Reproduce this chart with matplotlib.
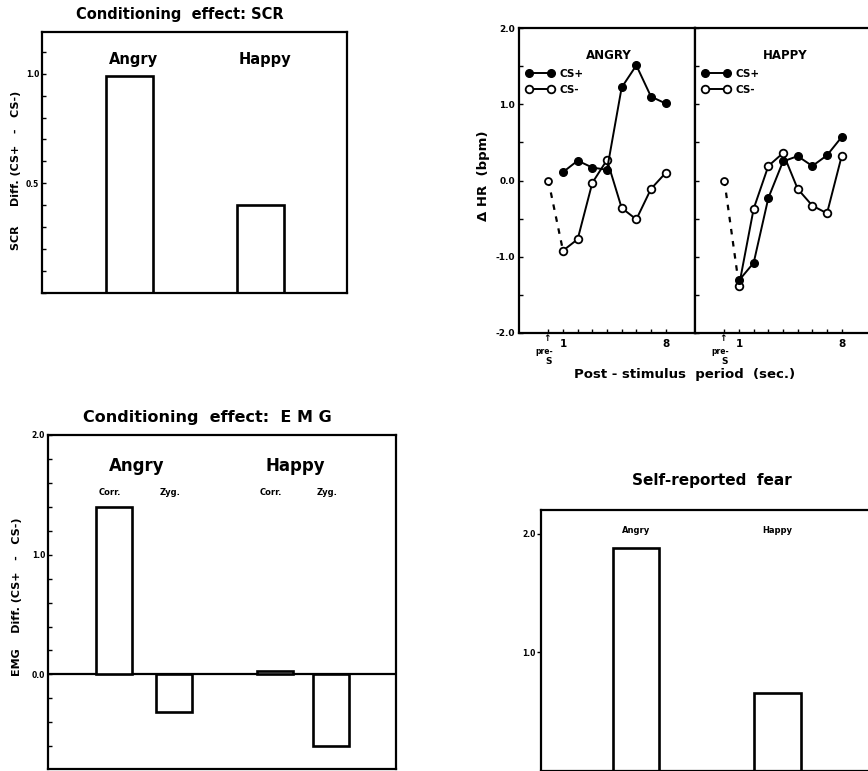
import matplotlib
matplotlib.use("Agg")
import matplotlib.pyplot as plt  # noqa: E402
from matplotlib.lines import Line2D  # noqa: E402
from matplotlib.ticker import FixedLocator, MultipleLocator  # noqa: E402
from matplotlib.transforms import blended_transform_factory  # noqa: E402

plt.rcParams["font.family"] = ["DejaVu Sans"]
plt.rcParams["font.weight"] = "bold"

# ---- data -----------------------------------------------------------------
faces = ["Angry", "Happy"]
scr_diff = [0.99, 0.40]

emg_muscles = ["Corr.", "Zyg."]
emg_angry = [1.40, -0.31]
emg_happy = [0.03, -0.60]

fear_rating = [1.88, 0.66]

hr_seconds = [1, 2, 3, 4, 5, 6, 7, 8]
hr_pre = 0.0
hr_angry_csp = [0.11, 0.26, 0.17, 0.14, 1.22, 1.51, 1.10, 1.01]
hr_angry_csm = [-0.92, -0.77, -0.03, 0.27, -0.36, -0.51, -0.11, 0.10]
hr_happy_csp = [-1.31, -1.08, -0.23, 0.25, 0.32, 0.19, 0.33, 0.57]
hr_happy_csm = [-1.38, -0.37, 0.19, 0.36, -0.11, -0.33, -0.43, 0.32]

W, H = 868, 771
fig = plt.figure(figsize=(W / 100, H / 100), dpi=100)


def px_axes(x0, y0, x1, y1):
    # axes placed by pixel box (top-left origin, like the scan)
    return fig.add_axes([x0 / W, 1 - y1 / H, (x1 - x0) / W, (y1 - y0) / H])


def frame(ax, lw=1.6):
    for s in ax.spines.values():
        s.set_linewidth(lw)


BAR = dict(facecolor="white", edgecolor="black", linewidth=1.9)

# ---- 1. SCR ---------------------------------------------------------------
ax = px_axes(42, 32, 347, 293)
frame(ax)
pos = [0, 1]
ax.bar(pos, scr_diff, width=0.36, **BAR)
ax.set_xlim(-0.67, 1.66)
ax.set_ylim(0, 1.19)
ax.set_xticks([])
ax.yaxis.set_major_locator(FixedLocator([0.5, 1.0]))
ax.yaxis.set_minor_locator(MultipleLocator(0.1))
ax.tick_params(axis="y", which="both", direction="in", length=3, width=1, labelsize=5.5, pad=2)
tr = blended_transform_factory(ax.transData, ax.transAxes)
for p, f in zip(pos, faces):
    ax.text(p + 0.03, 0.893, f, transform=tr, ha="center", va="center", fontsize=10.5)
fig.text(180 / W, 1 - 15 / H, "Conditioning  effect: SCR", ha="center", va="center", fontsize=10.5)
fig.text(16 / W, 1 - 170 / H, "SCR     Diff. (CS+   -   CS-)", rotation=90,
         ha="center", va="center", fontsize=8)

# ---- 2. Heart rate --------------------------------------------------------
panels = [("ANGRY", hr_angry_csp, hr_angry_csm, 519),
          ("HAPPY", hr_happy_csp, hr_happy_csm, 695)]
for i, (name, csp, csm, x0) in enumerate(panels):
    ax = px_axes(x0, 28, x0 + 176, 333)
    frame(ax)
    ax.plot([0, hr_seconds[0]], [hr_pre, csm[0]], color="black", lw=1.6,
            linestyle=(0, (2.5, 3)), zorder=2)
    ax.plot([0], [hr_pre], marker="o", ms=5, mfc="white", mec="black", mew=1.3,
            linestyle="none", zorder=4)
    ax.plot(hr_seconds, csm, color="black", lw=1.4, marker="o", ms=5.5,
            mfc="white", mec="black", mew=1.3, zorder=3)
    ax.plot(hr_seconds, csp, color="black", lw=1.4, marker="o", ms=5.5,
            mfc="black", mec="black", zorder=3)
    ax.set_xlim(-2, 10)
    ax.set_ylim(-2, 2)
    ax.yaxis.set_major_locator(MultipleLocator(1.0))
    ax.yaxis.set_minor_locator(MultipleLocator(0.5))
    ax.set_xticks(range(0, 9))
    ax.set_xticklabels(["", "1", "", "", "", "", "", "", "8"])
    ax.tick_params(which="both", direction="in", length=3, width=1)
    ax.tick_params(axis="x", labelsize=7.5, pad=4)
    ax.tick_params(axis="y", labelsize=6.5, pad=3)
    ax.yaxis.set_major_formatter(plt.FormatStrFormatter("%.1f"))
    if i > 0:
        ax.tick_params(axis="y", labelleft=False)
    ax.spines["right"].set_visible(i == 0)
    ax.text(0.51, 0.91, name, transform=ax.transAxes, ha="center", va="center", fontsize=8.5)
    handles = [Line2D([], [], color="black", lw=1.4, marker="o", ms=5.5, mfc="black", mec="black"),
               Line2D([], [], color="black", lw=1.4, marker="o", ms=5.5, mfc="white", mec="black", mew=1.3)]
    ax.legend(handles, ["CS+", "CS-"], loc="upper left", bbox_to_anchor=(0.0, 0.89),
              numpoints=2, handlelength=2.7, handletextpad=0.5, labelspacing=0.55,
              frameon=False, prop={"size": 7.5, "weight": "bold"}, borderaxespad=0.3)
    tr = blended_transform_factory(ax.transData, ax.transAxes)
    ax.text(-0.1, -0.017, "↑", transform=tr, ha="center", va="center", fontsize=6.5)
    ax.text(-0.25, -0.062, "pre-", transform=tr, ha="center", va="center", fontsize=5.5)
    ax.text(0, -0.092, "S", transform=tr, ha="center", va="center", fontsize=6.5)
fig.text(685 / W, 1 - 374 / H, "Post - stimulus  period  (sec.)", ha="center", va="center", fontsize=9.5)
fig.text(484 / W, 1 - 176 / H, "Δ HR  (bpm)", rotation=90, ha="center", va="center", fontsize=9.5)

# ---- 3. EMG ---------------------------------------------------------------
ax = px_axes(48, 435, 396, 769)
frame(ax)
groups = [(faces[0], emg_angry, [0.0, 1.0]), (faces[1], emg_happy, [2.68, 3.62])]
ax.axhline(0, color="black", lw=1.6, zorder=1)
tr = blended_transform_factory(ax.transData, ax.transAxes)
for face, vals, xs in groups:
    ax.bar(xs, vals, width=0.6, zorder=2, **BAR)
    ax.text(sum(xs) / 2 - 0.12, 0.907, face, transform=tr, ha="center", va="center", fontsize=12)
    for x, m in zip(xs, emg_muscles):
        ax.text(x - 0.06, 0.828, m, transform=tr, ha="center", va="center", fontsize=6)
ax.set_xlim(-1.095, 4.7)
ax.set_ylim(-0.79, 2.0)
ax.set_xticks([])
ax.yaxis.set_major_locator(FixedLocator([0.0, 1.0, 2.0]))
ax.yaxis.set_major_formatter(plt.FormatStrFormatter("%.1f"))
ax.yaxis.set_minor_locator(MultipleLocator(0.2))
ax.tick_params(axis="y", which="both", direction="in", length=3, width=1, labelsize=5.5, pad=2)
fig.text(207 / W, 1 - 418 / H, "Conditioning  effect:  E M G", ha="center", va="center", fontsize=11.5)
fig.text(17 / W, 1 - 597 / H, "EMG    Diff. (CS+   -   CS-)", rotation=90,
         ha="center", va="center", fontsize=8)

# ---- 4. Self-reported fear ------------------------------------------------
ax = px_axes(541, 510, 871, 771)
frame(ax)
pos = [0, 1]
ax.bar(pos, fear_rating, width=0.33, **BAR)
ax.set_xlim(-0.67, 1.66)
ax.set_ylim(0, 2.2)
ax.set_xticks([])
ax.spines["right"].set_visible(False)
ax.yaxis.set_major_locator(FixedLocator([1.0, 2.0]))
ax.yaxis.set_major_formatter(plt.FormatStrFormatter("%.1f"))
ax.tick_params(axis="y", direction="out", length=3, width=1, labelsize=5.5, pad=1)
tr = blended_transform_factory(ax.transData, ax.transAxes)
for p, f in zip(pos, faces):
    ax.text(p, 0.92, f, transform=tr, ha="center", va="center", fontsize=6)
fig.text(712 / W, 1 - 480 / H, "Self-reported  fear", ha="center", va="center", fontsize=11)

fig.savefig("out.png", dpi=100)
plt.close(fig)
